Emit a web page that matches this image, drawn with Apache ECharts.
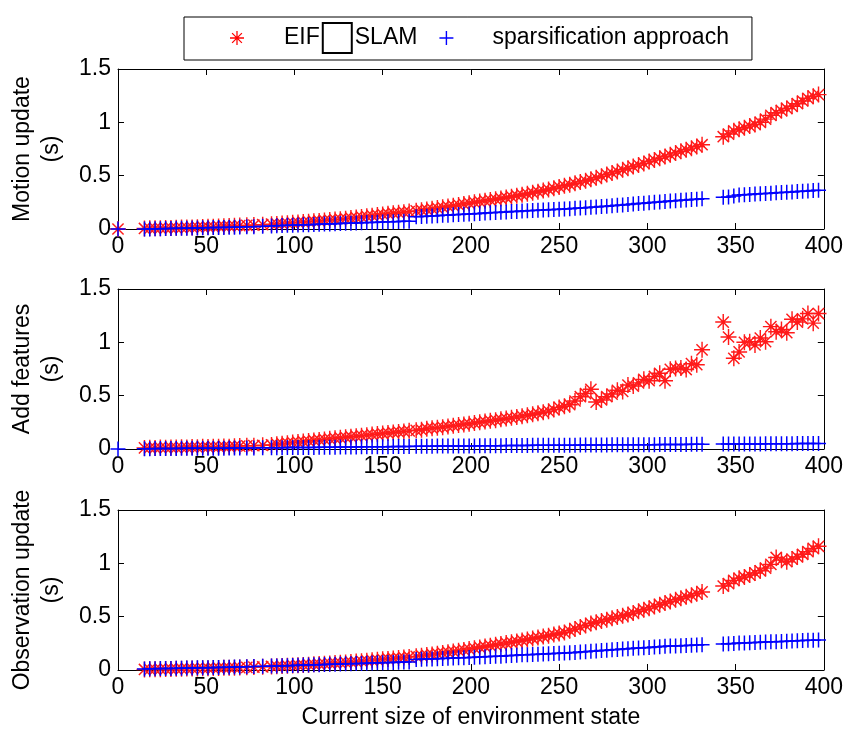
<!DOCTYPE html>
<html>
<head>
<meta charset="utf-8">
<script src="https://cdn.jsdelivr.net/npm/echarts@6/dist/echarts.min.js"></script>
<style>
  html, body { margin: 0; padding: 0; background: #fff; }
  #chart { width: 846px; height: 731px; }
</style>
</head>
<body>
<div id="chart"></div>
<script>
// --- data ---
const xs = [
  0,
  15, 18, 21, 24, 27, 30, 33, 36, 39, 42, 45, 48, 51, 54, 57, 60, 63, 66, 69,
  73, 77, 82, 87,
  90, 93, 96, 99, 102, 105, 108, 111, 114, 117, 120, 123, 126, 129, 132, 135, 138, 141, 144, 147, 150, 153, 156, 159, 162, 165,
  169, 172, 175, 178, 181, 184, 187, 190, 193, 196,
  199, 202, 205, 208, 211, 214, 217, 220, 223, 226,
  229, 232, 235, 238, 241, 244, 247, 250, 253, 256,
  259, 262, 265, 268, 271, 274, 277, 280, 283, 286,
  289, 292, 295, 298, 301, 304, 307, 310, 313, 316,
  319, 322, 325, 328, 331,
  343, 346, 349, 352, 355, 358, 361, 364, 367, 370, 373, 376, 379, 382, 385, 388, 391, 394, 397
];

const motionEif = [
  0,
  0.005, 0.006, 0.007, 0.008, 0.009, 0.01, 0.011, 0.013, 0.014, 0.015, 0.017, 0.019, 0.02, 0.022, 0.024, 0.026, 0.028, 0.03, 0.032,
  0.034, 0.037, 0.041, 0.045,
  0.048, 0.051, 0.054, 0.058, 0.062, 0.065, 0.069, 0.073, 0.076, 0.08, 0.084, 0.088, 0.092, 0.097, 0.102, 0.107, 0.113, 0.119, 0.125, 0.131, 0.137, 0.143, 0.148, 0.153, 0.158, 0.163,
  0.17, 0.176, 0.182, 0.189, 0.196, 0.203, 0.211, 0.218, 0.226, 0.234,
  0.242, 0.25, 0.257, 0.264, 0.271, 0.279, 0.287, 0.295, 0.303, 0.312,
  0.321, 0.33, 0.34, 0.35, 0.36, 0.37, 0.382, 0.394, 0.405, 0.416,
  0.428, 0.44, 0.452, 0.466, 0.48, 0.495, 0.51, 0.525, 0.54, 0.555,
  0.57, 0.585, 0.6, 0.615, 0.632, 0.648, 0.664, 0.68, 0.695, 0.712,
  0.728, 0.743, 0.758, 0.773, 0.79,
  0.865, 0.89, 0.92, 0.935, 0.95, 0.965, 0.98, 1.0, 1.03, 1.065, 1.09, 1.11, 1.13, 1.15, 1.175, 1.2, 1.225, 1.245, 1.26
];
const motionSparse = [
  0,
  0.0, 0.001, 0.002, 0.003, 0.004, 0.005, 0.006, 0.007, 0.008, 0.009, 0.01, 0.011, 0.012, 0.013, 0.014, 0.015, 0.016, 0.017, 0.018,
  0.02, 0.022, 0.025, 0.028,
  0.03, 0.032, 0.034, 0.036, 0.037, 0.039, 0.041, 0.043, 0.044, 0.046, 0.048, 0.05, 0.052, 0.054, 0.055, 0.057, 0.059, 0.061, 0.062, 0.064, 0.066, 0.067, 0.069, 0.07, 0.072, 0.073,
  0.115, 0.118, 0.12, 0.122, 0.125, 0.128, 0.13, 0.133, 0.136, 0.138,
  0.141, 0.144, 0.146, 0.149, 0.152, 0.155, 0.157, 0.16, 0.163, 0.165,
  0.168, 0.171, 0.173, 0.176, 0.178, 0.181, 0.183, 0.186, 0.188, 0.191,
  0.194, 0.197, 0.2, 0.204, 0.207, 0.211, 0.214, 0.218, 0.222, 0.226,
  0.23, 0.234, 0.238, 0.242, 0.246, 0.25, 0.254, 0.258, 0.262, 0.265,
  0.269, 0.272, 0.276, 0.279, 0.283,
  0.297, 0.3, 0.31, 0.318, 0.321, 0.324, 0.327, 0.33, 0.333, 0.336, 0.339, 0.342, 0.345, 0.348, 0.351, 0.354, 0.357, 0.36, 0.363
];

const featEif = [
  null,
  0.01, 0.012, 0.01, 0.014, 0.012, 0.015, 0.013, 0.016, 0.015, 0.018, 0.016, 0.02, 0.018, 0.022, 0.02, 0.024, 0.022, 0.026, 0.027,
  0.03, 0.031, 0.035, 0.038,
  0.045, 0.05, 0.055, 0.06, 0.065, 0.07, 0.075, 0.08, 0.085, 0.09, 0.095, 0.1, 0.105, 0.11, 0.115, 0.12, 0.125, 0.13, 0.135, 0.14, 0.145, 0.15, 0.155, 0.16, 0.165, 0.17,
  0.175, 0.18, 0.19, 0.195, 0.2, 0.205, 0.212, 0.218, 0.224, 0.23,
  0.236, 0.243, 0.25, 0.257, 0.264, 0.27, 0.278, 0.285, 0.292, 0.3,
  0.308, 0.316, 0.325, 0.334, 0.345, 0.355, 0.37, 0.39, 0.4, 0.415,
  0.45, 0.49, 0.52, 0.56, 0.44, 0.46, 0.49, 0.515, 0.55, 0.54,
  0.6, 0.59, 0.62, 0.653, 0.64, 0.68, 0.71, 0.64, 0.747, 0.755,
  0.76, 0.745, 0.8, 0.79, 0.93,
  1.19, 1.05, 0.85, 0.91, 1.0, 1.006, 0.975, 1.04, 1.006, 1.147, 1.1, 1.12, 1.09, 1.216, 1.19, 1.22, 1.27, 1.18, 1.27
];
const featSparse = [
  0,
  0.003, 0.003, 0.004, 0.004, 0.005, 0.005, 0.005, 0.006, 0.006, 0.006, 0.007, 0.007, 0.007, 0.008, 0.008, 0.008, 0.009, 0.009, 0.009,
  0.01, 0.01, 0.011, 0.011,
  0.012, 0.012, 0.013, 0.013, 0.014, 0.014, 0.015, 0.015, 0.016, 0.016, 0.017, 0.017, 0.018, 0.018, 0.019, 0.019, 0.02, 0.02, 0.021, 0.021, 0.022, 0.022, 0.023, 0.023, 0.024, 0.024,
  0.025, 0.025, 0.026, 0.026, 0.027, 0.027, 0.027, 0.028, 0.028, 0.029,
  0.029, 0.029, 0.03, 0.03, 0.031, 0.031, 0.031, 0.032, 0.032, 0.033,
  0.033, 0.033, 0.034, 0.034, 0.034, 0.035, 0.035, 0.035, 0.036, 0.036,
  0.036, 0.037, 0.037, 0.037, 0.038, 0.038, 0.038, 0.039, 0.039, 0.039,
  0.04, 0.04, 0.04, 0.041, 0.041, 0.041, 0.042, 0.042, 0.042, 0.043,
  0.043, 0.043, 0.044, 0.044, 0.044,
  0.046, 0.046, 0.047, 0.047, 0.047, 0.048, 0.048, 0.048, 0.049, 0.049, 0.049, 0.05, 0.05, 0.05, 0.051, 0.051, 0.051, 0.052, 0.052
];

const obsEif = [
  null,
  0.005, 0.006, 0.007, 0.008, 0.009, 0.01, 0.011, 0.012, 0.013, 0.014, 0.015, 0.016, 0.017, 0.018, 0.019, 0.02, 0.021, 0.022, 0.023,
  0.025, 0.027, 0.03, 0.033,
  0.035, 0.037, 0.04, 0.042, 0.045, 0.047, 0.05, 0.053, 0.056, 0.059, 0.062, 0.065, 0.068, 0.071, 0.075, 0.079, 0.083, 0.087, 0.091, 0.095, 0.1, 0.104, 0.108, 0.112, 0.117, 0.122,
  0.128, 0.134, 0.14, 0.146, 0.153, 0.16, 0.167, 0.174, 0.181, 0.188,
  0.196, 0.204, 0.212, 0.22, 0.228, 0.236, 0.244, 0.252, 0.26, 0.268,
  0.277, 0.286, 0.295, 0.304, 0.313, 0.322, 0.332, 0.342, 0.352, 0.368,
  0.385, 0.402, 0.418, 0.435, 0.447, 0.46, 0.472, 0.484, 0.496, 0.508,
  0.52, 0.535, 0.55, 0.565, 0.58, 0.596, 0.612, 0.628, 0.643, 0.658,
  0.672, 0.686, 0.7, 0.716, 0.732,
  0.787, 0.81, 0.84, 0.86, 0.872, 0.89, 0.91, 0.93, 0.955, 0.99, 1.055, 1.03, 1.015, 1.04, 1.06, 1.085, 1.11, 1.14, 1.16
];
const obsSparse = [
  null,
  0.01, 0.011, 0.012, 0.013, 0.014, 0.015, 0.016, 0.017, 0.018, 0.019, 0.02, 0.021, 0.022, 0.023, 0.024, 0.025, 0.026, 0.027, 0.028,
  0.03, 0.032, 0.034, 0.037,
  0.038, 0.04, 0.041, 0.043, 0.044, 0.046, 0.047, 0.049, 0.05, 0.052, 0.053, 0.055, 0.056, 0.058, 0.059, 0.061, 0.062, 0.064, 0.065, 0.067, 0.068, 0.07, 0.071, 0.073, 0.074, 0.076,
  0.098, 0.1, 0.102, 0.104, 0.106, 0.108, 0.11, 0.112, 0.114, 0.116,
  0.118, 0.12, 0.122, 0.124, 0.126, 0.128, 0.13, 0.133, 0.136, 0.139,
  0.142, 0.144, 0.146, 0.148, 0.15, 0.152, 0.154, 0.156, 0.159, 0.162,
  0.165, 0.168, 0.171, 0.175, 0.178, 0.182, 0.186, 0.19, 0.193, 0.196,
  0.2, 0.203, 0.206, 0.209, 0.212, 0.216, 0.219, 0.222, 0.224, 0.226,
  0.228, 0.23, 0.232, 0.234, 0.236,
  0.243, 0.246, 0.249, 0.252, 0.254, 0.256, 0.258, 0.26, 0.262, 0.264, 0.266, 0.268, 0.27, 0.272, 0.274, 0.276, 0.278, 0.28, 0.282
];

const panelNames = ['Motion update\n(s)', 'Add features\n(s)', 'Observation update\n(s)'];
const xTitle = 'Current size of environment state';
const seriesNames = ['EIF SLAM', 'sparsification approach'];

// --- marker shapes (MATLAB '*' and '+') ---
const PLUS = 'path://M-10,-1L10,-1L10,1L-10,1Z M-1,-10L1,-10L1,10L-1,10Z';
const STAR = 'path://M-10,-0.9L10,-0.9L10,0.9L-10,0.9Z M-0.9,-10L0.9,-10L0.9,10L-0.9,10Z' +
  ' M-6.36,-7.64L7.64,6.36L6.36,7.64L-7.64,-6.36Z' +
  ' M-7.64,6.36L6.36,-7.64L7.64,-6.36L-6.36,7.64Z';

const FONT = 'Liberation Sans';
const FS = 23;
const tops = [69, 289, 510];

const grids = tops.map(t => ({ left: 118, right: 21, top: t, height: 160 }));

const xAxes = [];
const yAxes = [];
tops.forEach((t, i) => {
  const tick = { inside: true, length: 6, lineStyle: { color: '#000' } };
  const line = { show: true, onZero: false, lineStyle: { color: '#000', width: 1 } };
  xAxes.push({
    gridIndex: i, type: 'value', position: 'bottom', min: 0, max: 400, interval: 50,
    axisLine: line, axisTick: tick, splitLine: { show: false },
    axisLabel: { color: '#000', fontSize: FS, fontFamily: FONT, margin: 6 },
    name: i === 2 ? xTitle : '', nameLocation: 'middle', nameGap: 36,
    nameTextStyle: { color: '#000', fontSize: FS, fontFamily: FONT }
  });
  xAxes.push({
    gridIndex: i, type: 'value', position: 'top', min: 0, max: 400, interval: 50,
    axisLine: line, axisTick: tick, splitLine: { show: false }, axisLabel: { show: false }
  });
  yAxes.push({
    gridIndex: i, type: 'value', position: 'left', min: 0, max: 1.5, interval: 0.5,
    axisLine: line, axisTick: tick, splitLine: { show: false },
    axisLabel: { color: '#000', fontSize: FS, fontFamily: FONT, margin: 7 },
    name: panelNames[i], nameLocation: 'middle', nameRotate: 90, nameGap: 52,
    nameTextStyle: { color: '#000', fontSize: FS, fontFamily: FONT, lineHeight: 29 }
  });
  yAxes.push({
    gridIndex: i, type: 'value', position: 'right', min: 0, max: 1.5, interval: 0.5,
    axisLine: line, axisTick: tick, splitLine: { show: false }, axisLabel: { show: false }
  });
});

function pairs(vals) {
  return xs.map((x, i) => [x, vals[i]]).filter(p => p[1] !== null);
}

const panels = [
  [motionEif, motionSparse],
  [featEif, featSparse],
  [obsEif, obsSparse]
];

const series = [];
panels.forEach(([eif, sparse], i) => {
  series.push({
    name: seriesNames[0], type: 'scatter', xAxisIndex: i * 2, yAxisIndex: i * 2,
    symbol: STAR, symbolSize: 16, itemStyle: { color: '#ff1a1a', opacity: 1 },
    data: pairs(eif), silent: true
  });
  series.push({
    name: seriesNames[1], type: 'scatter', xAxisIndex: i * 2, yAxisIndex: i * 2,
    symbol: PLUS, symbolSize: 15, itemStyle: { color: '#0000ff', opacity: 1 },
    data: pairs(sparse), silent: true
  });
});

const chart = echarts.init(document.getElementById('chart'), null, { renderer: 'canvas' });
chart.setOption({
  animation: false,
  textStyle: { fontFamily: FONT },
  grid: grids,
  xAxis: xAxes,
  yAxis: yAxes,
  legend: {
    left: 184, top: 17,
    orient: 'horizontal',
    padding: [5, 23, 6, 46],
    borderColor: '#000', borderWidth: 1,
    itemWidth: 14, itemHeight: 14, itemGap: 22,
    data: [
      { name: seriesNames[0], icon: STAR, itemStyle: { color: '#ff0000' } },
      { name: seriesNames[1], icon: PLUS, itemStyle: { color: '#0000ff' } }
    ],
    formatter: name => name === seriesNames[0]
      ? '{sp| }EIF{g| }{bx| }{g| }SLAM'
      : '{sp2| }sparsification approach',
    textStyle: {
      color: '#000', fontSize: FS, fontFamily: FONT,
      rich: {
        sp: { width: 35 },
        sp2: { width: 34 },
        g: { width: 3 },
        bx: { width: 29, height: 30, borderColor: '#000', borderWidth: 2 }
      }
    }
  },
  series: series
});
</script>
</body>
</html>
